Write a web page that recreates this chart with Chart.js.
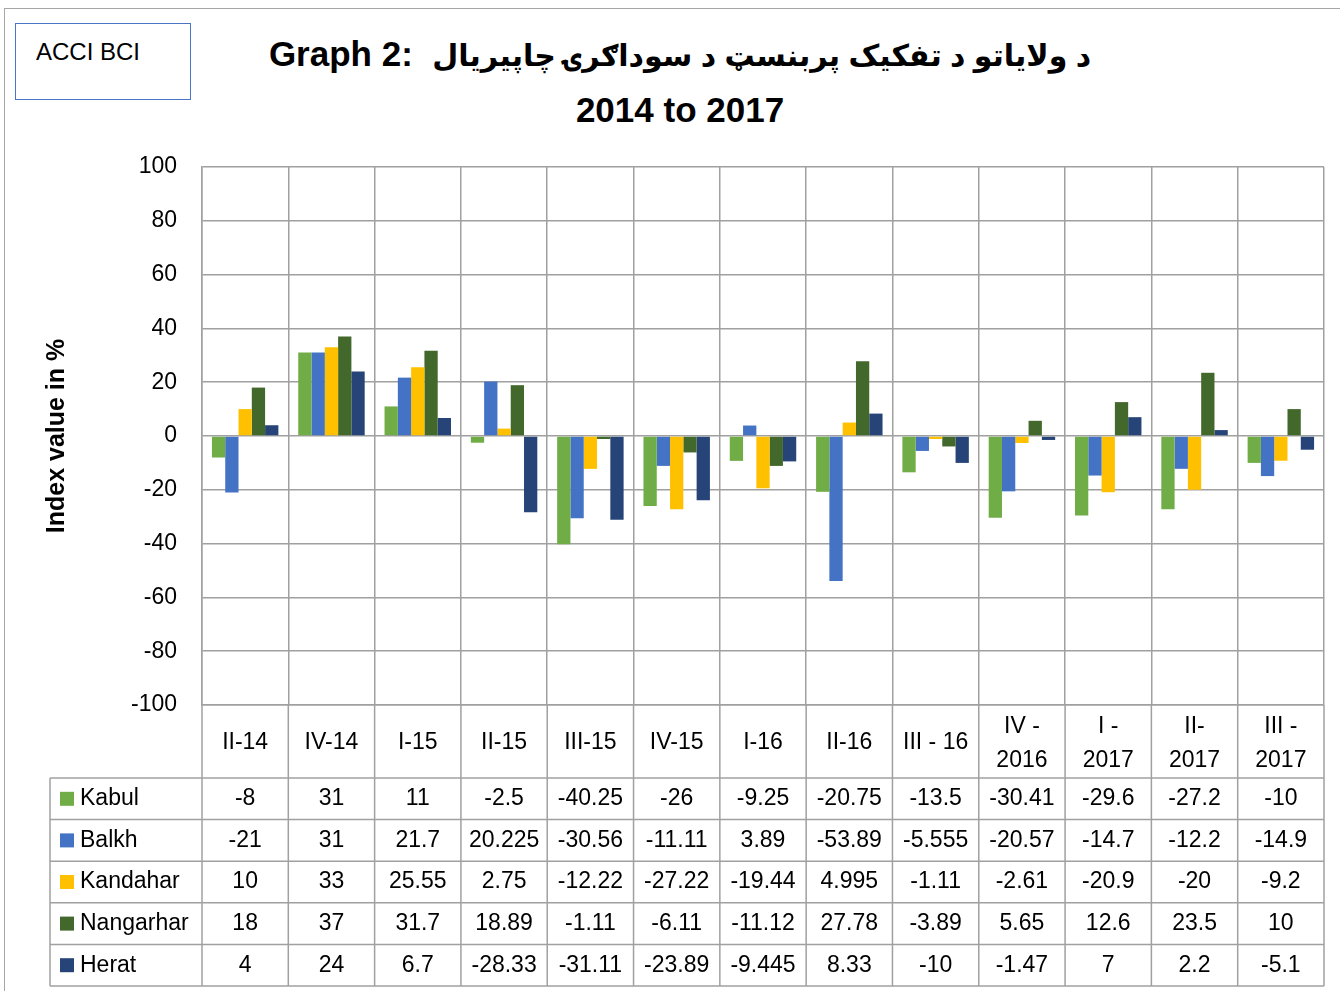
<!DOCTYPE html>
<html>
<head>
<meta charset="utf-8">
<script src="https://cdn.jsdelivr.net/npm/chart.js@4.4.1/dist/chart.umd.min.js"></script>
<style>
  html, body { margin: 0; padding: 0; background: #fff; overflow: hidden; }
  #wrap { position: relative; width: 1340px; height: 991px; }
  #frame { position: absolute; left: 4px; top: 8px; width: 1400px; height: 1100px; border: 1.5px solid #a6a6a6; box-sizing: border-box; }
  #badge { position: absolute; left: 15px; top: 23px; width: 176px; height: 77px; border: 1px solid #4a74c4; box-sizing: border-box;
           font: 24px 'Liberation Sans', sans-serif; padding: 14px 0 0 20px; color: #000; }
  #title { position: absolute; left: 10px; top: 27px; width: 1340px; text-align: center;
           font: bold 35px 'Liberation Sans', 'DejaVu Sans', sans-serif; line-height: 54px; color: #000; }
  #title .ps { font-size: 30px; }
  canvas { position: absolute; left: 0; top: 0; }
</style>
</head>
<body>
<div id="wrap">
  <div id="frame"></div>
  <div id="badge">ACCI BCI</div>
  <div id="title">Graph 2:&nbsp; <span class="ps" dir="rtl">د ولایاتو د تفکیک پربنسټ د سوداګرۍ چاپیریال</span><br>2014 to 2017</div>
  <canvas id="bciChart" width="1340" height="991"></canvas>
</div>
<script>
(function () {
    // quarters shown in the header row of the data table
    const quarters = ['II-14', 'IV-14', 'I-15', 'II-15', 'III-15', 'IV-15', 'I-16', 'II-16', 'III - 16',
        ['IV -', '2016'], ['I -', '2017'], ['II-', '2017'], ['III -', '2017']];

    const kabul = [-8, 31, 11, -2.5, -40.25, -26, -9.25, -20.75, -13.5, -30.41, -29.6, -27.2, -10];
    const balkh = [-21, 31, 21.7, 20.225, -30.56, -11.11, 3.89, -53.89, -5.555, -20.57, -14.7, -12.2, -14.9];
    const kandahar = [10, 33, 25.55, 2.75, -12.22, -27.22, -19.44, 4.995, -1.11, -2.61, -20.9, -20, -9.2];
    const nangarhar = [18, 37, 31.7, 18.89, -1.11, -6.11, -11.12, 27.78, -3.89, 5.65, 12.6, 23.5, 10];
    const herat = [4, 24, 6.7, -28.33, -31.11, -23.89, -9.445, 8.33, -10, -1.47, 7, 2.2, -5.1];

    const yTicks = [-100, -80, -60, -40, -20, 0, 20, 40, 60, 80, 100];

    const series = [
        { label: 'Kabul', data: kabul, color: '#70ad47' },
        { label: 'Balkh', data: balkh, color: '#4472c4' },
        { label: 'Kandahar', data: kandahar, color: '#ffc000' },
        { label: 'Nangarhar', data: nangarhar, color: '#43682b' },
        { label: 'Herat', data: herat, color: '#264478' }
    ];

    const gridColor = '#a0a0a0';
    const font = "'Liberation Sans', sans-serif";

    // data table under the plot, drawn against the x scale
    const dataTable = {
        id: 'dataTable',
        afterDraw(chart) {
            const ctx = chart.ctx;
            const area = chart.chartArea;
            const x = chart.scales.x;
            const n = quarters.length;
            const colW = (area.right - area.left) / n;
            const headerBottom = area.bottom + 73;
            const rowH = 41.6;
            const tableBottom = headerBottom + rowH * series.length;
            const legendLeft = 50;

            ctx.save();
            ctx.strokeStyle = gridColor;
            ctx.lineWidth = 1.5;

            // vertical lines
            for (let i = 0; i <= n; i++) {
                const lx = area.left + i * colW;
                ctx.beginPath();
                ctx.moveTo(lx, area.bottom);
                ctx.lineTo(lx, tableBottom);
                ctx.stroke();
            }
            ctx.beginPath();
            ctx.moveTo(legendLeft, headerBottom);
            ctx.lineTo(legendLeft, tableBottom);
            ctx.stroke();

            // horizontal lines
            for (let r = 0; r <= series.length; r++) {
                const ly = headerBottom + r * rowH;
                ctx.beginPath();
                ctx.moveTo(legendLeft, ly);
                ctx.lineTo(area.right, ly);
                ctx.stroke();
            }

            ctx.fillStyle = '#000';
            ctx.font = '23px ' + font;
            ctx.textAlign = 'center';
            ctx.textBaseline = 'middle';

            // header labels
            quarters.forEach((q, i) => {
                const cx = x.getPixelForValue(i);
                const mid = (area.bottom + headerBottom) / 2;
                if (Array.isArray(q)) {
                    ctx.fillText(q[0], cx, mid - 15);
                    ctx.fillText(q[1], cx, mid + 19);
                } else {
                    ctx.fillText(q, cx, mid + 1);
                }
            });

            // rows
            series.forEach((s, r) => {
                const cy = headerBottom + r * rowH + rowH / 2;
                s.data.forEach((v, i) => {
                    ctx.fillText(String(v), x.getPixelForValue(i), cy);
                });
                ctx.fillStyle = s.color;
                ctx.fillRect(60, cy - 7, 14, 14);
                ctx.fillStyle = '#000';
                ctx.textAlign = 'left';
                ctx.fillText(s.label, 80, cy);
                ctx.textAlign = 'center';
            });
            ctx.restore();
        }
    };

    new Chart(document.getElementById('bciChart'), {
        type: 'bar',
        data: {
            labels: quarters,
            datasets: series.map(s => ({
                label: s.label,
                data: s.data,
                backgroundColor: s.color,
                borderWidth: 0,
                barPercentage: 1,
                categoryPercentage: 0.77
            }))
        },
        options: {
            responsive: false,
            animation: false,
            layout: { padding: { left: 0, top: 167, right: 16, bottom: 286 } },
            plugins: {
                legend: { display: false },
                tooltip: { enabled: false }
            },
            scales: {
                x: {
                    grid: { color: gridColor, lineWidth: 1.5, drawTicks: false, offset: true },
                    border: { color: gridColor, width: 1.5 },
                    ticks: { display: false }
                },
                y: {
                    min: -100,
                    max: 100,
                    afterFit: s => { s.width = 202; },
                    afterBuildTicks: s => { s.ticks = yTicks.map(v => ({ value: v })); },
                    grid: { color: gridColor, lineWidth: 1.5, drawTicks: false },
                    border: { color: gridColor, width: 1.5 },
                    ticks: { color: '#000', padding: 25, font: { family: font, size: 23 } },
                    title: {
                        display: true,
                        text: 'Index value in %',
                        color: '#000',
                        padding: { top: 42, bottom: 0 },
                        font: { family: font, size: 25, weight: 'bold' }
                    }
                }
            }
        },
        plugins: [dataTable]
    });
})();
</script>
</body>
</html>
